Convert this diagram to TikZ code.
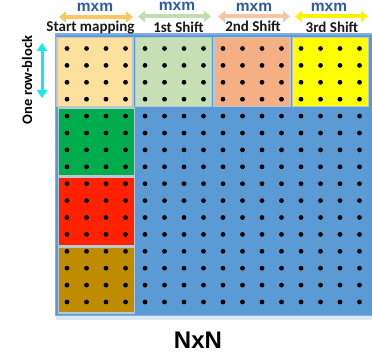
\documentclass[tikz,border=0pt]{standalone}
\usepackage{fontspec}
\newfontfamily\calib{Carlito}
\newfontfamily\arialf{Liberation Sans}
\usetikzlibrary{arrows.meta}
\definecolor{matblue}{HTML}{5B9BD5}
\definecolor{edgeblue}{HTML}{86AEDD}
\definecolor{blkedge}{HTML}{B9C6D4}
\definecolor{startc}{HTML}{FCE09C}
\definecolor{shiftone}{HTML}{C6DFB4}
\definecolor{shifttwo}{HTML}{F4B083}
\definecolor{shiftthree}{HTML}{FFFF00}
\definecolor{grn}{HTML}{00AC4C}
\definecolor{rd}{HTML}{FF2200}
\definecolor{brn}{HTML}{BF8C00}
\definecolor{mxmblue}{HTML}{2E5C9E}
\definecolor{arrgold}{HTML}{FAC85E}
\definecolor{arrgreen}{HTML}{C3DDB1}
\definecolor{arrsalmon}{HTML}{F7C4A6}
\definecolor{arryellow}{HTML}{FFF200}
\definecolor{arrcyan}{HTML}{14E8F2}
\begin{document}
\begin{tikzpicture}[x=1pt,y=-1pt,
  blk/.style={draw=blkedge, line width=1.1pt, anchor=north west,
    minimum width=76pt, minimum height=69pt, inner sep=0pt, outer sep=0pt},
  lbltext/.style={font=\calib\bfseries\fontsize{15}{15}\selectfont, text=black!90, anchor=base, inner sep=0pt},
  mxmtext/.style={font=\arialf\bfseries\fontsize{15.5}{15.5}\selectfont, text=mxmblue, anchor=base,
    inner sep=0pt, text height=8.2pt, text depth=0pt},
  dimarrow/.style={line width=4pt, {Triangle[width=11pt,length=7pt]}-{Triangle[width=11pt,length=7pt]}},
  dot/.style={fill=black}]
\useasboundingbox (0,0) rectangle (372,358);

% matrix area with a soft shadow underneath
\fill[matblue!22] (56,315) rectangle (372,320);
\node[draw=edgeblue, fill=matblue, line width=1.2pt, anchor=north west,
  minimum width=317pt, minimum height=281.5pt, inner sep=0pt] (mat) at (54.5,33.5) {};

% first row-block: start position and three shifts
\node[blk, fill=startc]     (b0) at (57,37.5) {};
\node[blk, fill=shiftone]   (b1) at (135.5,37.5) {};
\node[blk, fill=shifttwo]   (b2) at (214,37.5) {};
\node[blk, fill=shiftthree] (b3) at (292.5,37.5) {};
% first block-column
\node[blk, fill=grn, minimum height=68pt] (c1) at (58.5,108) {};
\node[blk, fill=rd,  minimum height=68pt] (c2) at (58.5,177.5) {};
\node[blk, fill=brn, minimum height=66pt] (c3) at (58.5,247) {};

% elements of the N x N matrix
\foreach \i in {0,...,15}
  \foreach \j in {0,...,15}
    \fill[dot] (67+19.5*\i, 48.5+16.9*\j) circle (2.4pt);

% block size arrows
\coordinate (a0l) at (59,17);  \coordinate (a0r) at (133,17);
\coordinate (a1l) at (138,16.5); \coordinate (a1r) at (211,16.5);
\coordinate (a2l) at (218,16.5); \coordinate (a2r) at (290,16.5);
\coordinate (a3l) at (295,16.5); \coordinate (a3r) at (368,16.5);
\draw[dimarrow, arrgold]   (a0l) -- (a0r);
\draw[dimarrow, arrgreen]  (a1l) -- (a1r);
\draw[dimarrow, arrsalmon] (a2l) -- (a2r);
\draw[dimarrow, arryellow] (a3l) -- (a3r);

\node[mxmtext] (m0) at (95,11.5) {mxm};
\node[mxmtext] (m1) at (177,11) {mxm};
\node[mxmtext] (m2) at (254,11.5) {mxm};
\node[mxmtext] (m3) at (329,11.5) {mxm};

\node[lbltext] (l0) at (90.5,32) {Start mapping};
\node[lbltext] (l1) at (178.5,32.5) {1st Shift};
\node[lbltext] (l2) at (253,32) {2nd Shift};
\node[lbltext] (l3) at (332,32.5) {3rd Shift};

% row-block height
\coordinate (rt) at (42,43);
\coordinate (rb) at (42,98);
\draw[line width=3pt, arrcyan, {Triangle[width=10pt,length=8pt]}-{Triangle[width=10pt,length=8pt]}] (rt) -- (rb);
\node[font=\calib\bfseries\fontsize{14.5}{14.5}\selectfont, rotate=90, inner sep=0pt] (rowlbl) at (27,80) {One row-block};

\node[font=\arialf\bfseries\fontsize{24}{24}\selectfont, inner sep=0pt] (nn) at (198,340.5) {NxN};
\end{tikzpicture}
\end{document}
